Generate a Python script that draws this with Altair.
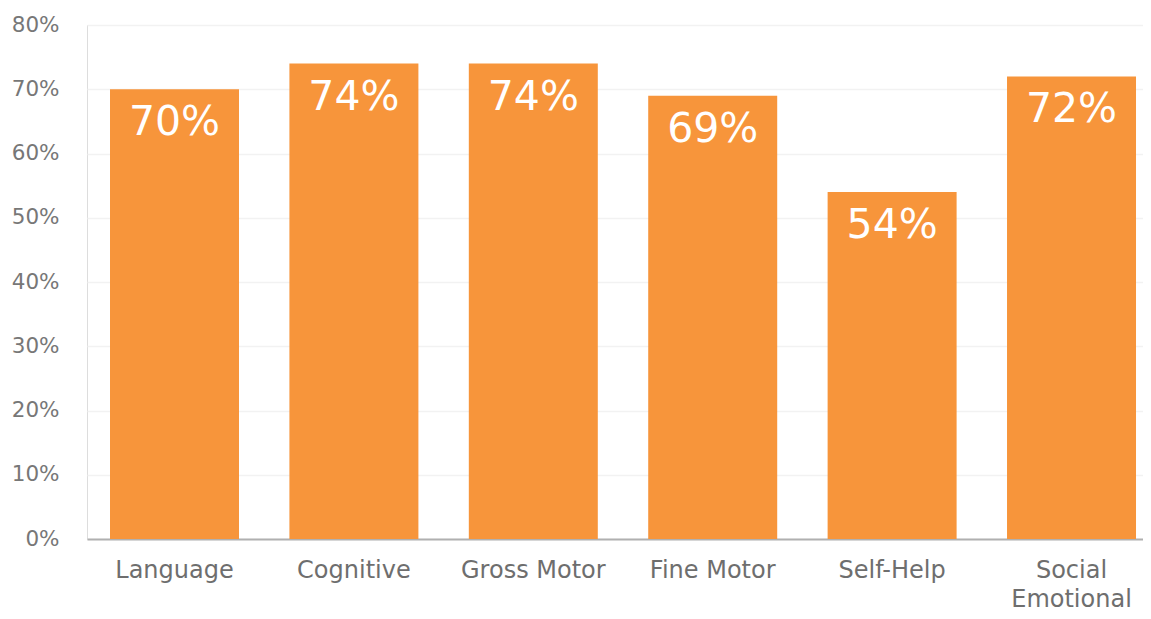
import altair as alt
import pandas as pd

categories = ["Language", "Cognitive", "Gross Motor", "Fine Motor", "Self-Help", "Social Emotional"]
values = [70, 74, 74, 69, 54, 72]
labels = ["70%", "74%", "74%", "69%", "54%", "72%"]

df = pd.DataFrame({"cat": categories, "val": [v / 100 for v in values], "lab": labels})

FONT = "DejaVu Sans"
ORANGE = "#F7953B"

x = alt.X(
    "cat:N",
    sort=categories,
    title=None,
    scale=alt.Scale(paddingInner=0.281, paddingOuter=0.0836, align=0.767, round=False),
    axis=alt.Axis(
        labelAngle=0,
        labelFont=FONT,
        labelFontSize=24,
        labelColor="#6e6e6e",
        labelPadding=19,
        labelLineHeight=29,
        ticks=False,
        grid=False,
        domainColor="#b0b0b0",
        domainWidth=2,
        labelExpr="datum.label == 'Social Emotional' ? ['Social', 'Emotional'] : datum.label",
    ),
)
y = alt.Y(
    "val:Q",
    title=None,
    scale=alt.Scale(domain=[0, 0.8]),
    axis=alt.Axis(
        format="%",
        values=[0, 0.1, 0.2, 0.3, 0.4, 0.5, 0.6, 0.7, 0.8],
        labelFont=FONT,
        labelFontSize=21.5,
        labelColor="#777777",
        labelPadding=28,
        ticks=False,
        domain=False,
        gridColor="#f2f2f2",
        gridWidth=1.5,
    ),
)

bars = alt.Chart(df).mark_bar(color=ORANGE).encode(x=x, y=y)
text = alt.Chart(df).mark_text(
    font=FONT, fontSize=41, color="white", baseline="alphabetic", dy=46
).encode(x=x, y=y, text="lab:N")

chart = (
    (bars + text)
    .properties(
        width=1056,
        height=514,
        autosize=alt.AutoSizeParams(type="none"),
        padding={"left": 79, "top": 17, "right": 0, "bottom": 72},
    )
    .configure_view(stroke="transparent", strokeWidth=0)
    .configure(background="white")
)

chart.save("out.html", embed_options={"renderer": "svg", "actions": False})
